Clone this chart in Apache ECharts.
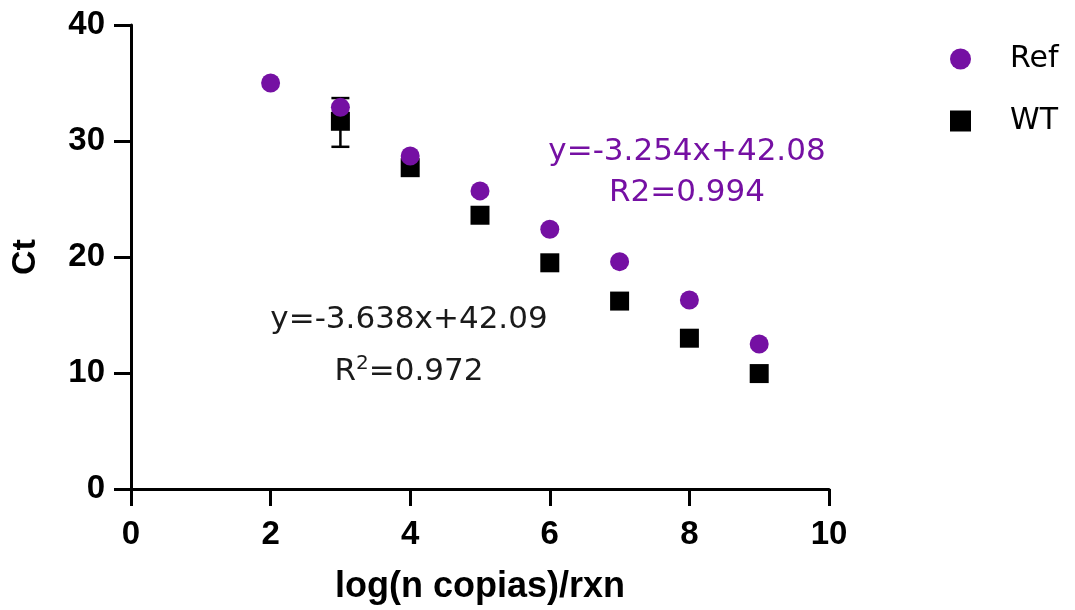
<!DOCTYPE html>
<html>
<head>
<meta charset="utf-8">
<script src="https://cdn.jsdelivr.net/npm/echarts@6/dist/echarts.min.js"></script>
<style>
html,body{margin:0;padding:0;background:#fff;}
#chart{width:1075px;height:610px;}
</style>
</head>
<body>
<div id="chart"></div>
<script>
// ---- data ----
const refX = [2, 3, 4, 5, 6, 7, 8, 9];
const refCt = [35.0, 32.9, 28.7, 25.7, 22.4, 19.6, 16.3, 12.5];
const wtX = [3, 4, 5, 6, 7, 8, 9];
const wtCt = [31.7, 27.7, 23.6, 19.5, 16.2, 13.0, 9.95];
const wtErrX = [3];
const wtErrLow = [29.5];
const wtErrHigh = [33.7];
const xTicks = [0, 2, 4, 6, 8, 10];
const yTicks = [0, 10, 20, 30, 40];
const refEq = 'y=-3.254x+42.08';
const refR2 = 'R2=0.994';
const wtEq = 'y=-3.638x+42.09';
const wtR2Value = '=0.972';

const PURPLE = '#7510a3';
const FONT = '"Liberation Sans", Arial, sans-serif';
const TFONT = '"DejaVu Sans", "Liberation Sans", sans-serif';

const chart = echarts.init(document.getElementById('chart'), null, {renderer: 'canvas'});

const option = {
  backgroundColor: '#ffffff',
  animation: false,
  grid: {left: 131, right: 246, top: 25, bottom: 121, containLabel: false},
  legend: {
    orient: 'vertical',
    left: 945,
    top: 39,
    itemWidth: 21,
    itemHeight: 21,
    itemGap: 32,
    textStyle: {fontFamily: TFONT, fontSize: 30, color: '#000', padding: [0, 0, 0, 34]},
    data: [{name: 'Ref', icon: 'circle'}, {name: 'WT', icon: 'rect'}]
  },
  xAxis: {
    type: 'value',
    min: xTicks[0],
    max: xTicks[xTicks.length - 1],
    interval: xTicks[1] - xTicks[0],
    name: 'log(n copias)/rxn',
    nameLocation: 'middle',
    nameGap: 80,
    nameTextStyle: {fontFamily: FONT, fontSize: 36, fontWeight: 'bold', color: '#000'},
    axisLine: {show: true, onZero: false, lineStyle: {color: '#000', width: 3}},
    axisTick: {show: true, inside: false, length: 17, lineStyle: {color: '#000', width: 3}},
    axisLabel: {margin: 29, fontFamily: FONT, fontSize: 33, fontWeight: 'bold', color: '#000'},
    splitLine: {show: false}
  },
  yAxis: {
    type: 'value',
    min: yTicks[0],
    max: yTicks[yTicks.length - 1],
    interval: yTicks[1] - yTicks[0],
    name: 'Ct',
    nameLocation: 'middle',
    nameGap: 88,
    nameRotate: 90,
    nameTextStyle: {fontFamily: FONT, fontSize: 34, fontWeight: 'bold', color: '#000'},
    axisLine: {show: true, onZero: false, lineStyle: {color: '#000', width: 3}},
    axisTick: {show: true, inside: false, length: 17, lineStyle: {color: '#000', width: 3}},
    axisLabel: {margin: 26, fontFamily: FONT, fontSize: 33, fontWeight: 'bold', color: '#000'},
    splitLine: {show: false}
  },
  series: [
    {
      name: 'Ref',
      type: 'scatter',
      symbol: 'circle',
      symbolSize: 19,
      z: 5,
      itemStyle: {color: PURPLE, opacity: 1},
      data: refX.map((x, i) => [x, refCt[i]])
    },
    {
      name: 'WT',
      type: 'scatter',
      symbol: 'rect',
      symbolSize: 19,
      z: 4,
      itemStyle: {color: '#000', opacity: 1},
      data: wtX.map((x, i) => [x, wtCt[i]])
    },
    {
      name: 'WT error',
      type: 'custom',
      z: 3,
      silent: true,
      renderItem: function (params, api) {
        const x = api.value(0);
        const lo = api.coord([x, api.value(1)]);
        const hi = api.coord([x, api.value(2)]);
        const hw = 9;
        const style = {stroke: '#000', lineWidth: 2.5, fill: null};
        return {
          type: 'group',
          children: [
            {type: 'line', shape: {x1: lo[0], y1: lo[1], x2: hi[0], y2: hi[1]}, style: style},
            {type: 'line', shape: {x1: lo[0] - hw, y1: lo[1], x2: lo[0] + hw, y2: lo[1]}, style: style},
            {type: 'line', shape: {x1: hi[0] - hw, y1: hi[1], x2: hi[0] + hw, y2: hi[1]}, style: style}
          ]
        };
      },
      encode: {x: 0, y: [1, 2]},
      data: wtErrX.map((x, i) => [x, wtErrLow[i], wtErrHigh[i]])
    }
  ],
  graphic: [
    {
      type: 'text', z: 10,
      style: {text: refEq, x: 687, y: 152, align: 'center', verticalAlign: 'middle',
        fontFamily: TFONT, fontSize: 31, fill: PURPLE}
    },
    {
      type: 'text', z: 10,
      style: {text: refR2, x: 687, y: 193, align: 'center', verticalAlign: 'middle',
        fontFamily: TFONT, fontSize: 31, fill: PURPLE}
    },
    {
      type: 'text', z: 10,
      style: {text: wtEq, x: 409, y: 320, align: 'center', verticalAlign: 'middle',
        fontFamily: TFONT, fontSize: 31, fill: '#1a1a1a'}
    },
    {
      type: 'text', z: 10,
      style: {
        text: 'R{sup|2}' + wtR2Value, x: 409, y: 372, align: 'center', verticalAlign: 'middle',
        fontFamily: TFONT, fontSize: 31, fill: '#1a1a1a',
        rich: {sup: {fontFamily: TFONT, fontSize: 20, fill: '#1a1a1a', verticalAlign: 'top', lineHeight: 36}}
      }
    }
  ]
};
chart.setOption(option);
</script>
</body>
</html>
